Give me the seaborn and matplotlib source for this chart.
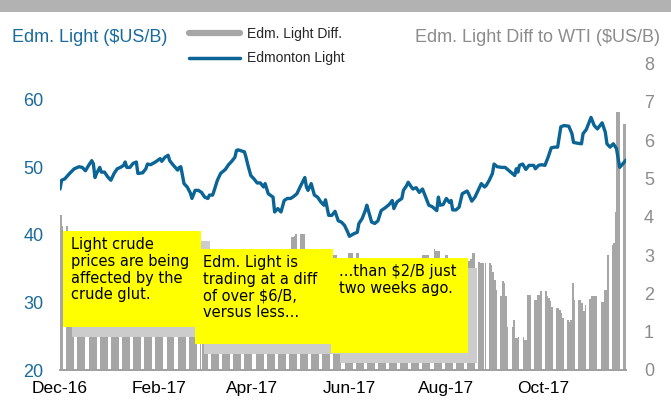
import pandas as pd
import matplotlib
matplotlib.use('Agg')
import matplotlib.pyplot as plt
import matplotlib.dates as mdates
from matplotlib.patches import Rectangle
from matplotlib.lines import Line2D
import seaborn as sns


START = pd.Timestamp('2016-12-01')
END_DAY = 356

# Edmonton Light ($US/B), days after 2016-12-01
LINE_DAYS = [
    0, 1, 3, 6, 9, 12, 14, 16, 18, 20, 21, 22, 23, 25, 26, 28, 30, 32, 34, 36,
    38, 40, 41, 42, 44, 46, 48, 49, 52, 54, 55, 57, 60, 63, 64, 66, 68, 69, 71, 74,
    75, 76, 78, 80, 82, 83, 85, 87, 89, 91, 93, 94, 96, 97, 99, 101, 104, 106, 108, 110,
    111, 112, 116, 117, 118, 120, 122, 124, 126, 128, 129, 131, 134, 135, 137, 139, 141, 143, 145, 147,
    149, 151, 154, 155, 156, 158, 160, 162, 164, 166, 167, 169, 171, 173, 175, 177, 179, 181, 182, 185,
    187, 188, 190, 192, 193, 196, 198, 200, 202, 205, 207, 209, 210, 212, 215, 216, 218, 219, 221, 222,
    224, 226, 228, 230, 232, 234, 237, 238, 239, 241, 243, 245, 246, 247, 249, 251, 253, 256, 257, 259,
    261, 263, 265, 267, 268, 270, 272, 273, 275, 278, 280, 282, 284, 286, 287, 288, 289, 291, 293, 295,
    298, 299, 301, 303, 305, 307, 309, 311, 313, 315, 317, 320, 322, 323, 325, 328, 329, 331, 334, 336,
    338, 341, 343, 344, 346, 348, 350, 352, 355, 356,
]
LINE_PRICE = [
    46.8, 48.1, 48.3, 49.1, 49.8, 50.1, 50.0, 49.5, 50.3, 51.0, 50.5, 48.5, 49.1, 50.0, 49.3, 49.3, 48.6, 48.1, 49.1, 49.8,
    50.0, 50.3, 50.8, 50.0, 50.0, 50.6, 50.8, 49.1, 49.2, 49.8, 50.5, 50.4, 50.8, 51.3, 50.9, 51.5, 51.8, 51.0, 50.4, 49.6,
    50.0, 50.1, 47.6, 47.1, 46.2, 45.4, 46.6, 46.6, 46.3, 45.6, 45.4, 45.9, 45.9, 46.6, 48.1, 49.1, 49.7, 50.4, 50.9, 51.5,
    52.5, 52.6, 52.3, 51.5, 50.5, 48.8, 48.3, 47.7, 47.7, 47.1, 47.6, 46.1, 45.6, 43.4, 43.9, 43.4, 45.1, 45.4, 45.4, 45.7,
    46.1, 47.1, 48.5, 47.1, 46.6, 47.6, 45.9, 45.6, 44.9, 44.4, 45.2, 42.9, 42.9, 43.5, 42.1, 41.9, 41.4, 40.4, 39.8, 40.2,
    40.4, 41.7, 42.4, 43.6, 44.4, 41.9, 41.7, 42.1, 43.6, 44.1, 44.5, 45.1, 43.9, 44.9, 45.4, 46.6, 47.3, 47.8, 47.1, 46.8,
    47.0, 46.3, 46.8, 45.6, 44.4, 44.2, 43.6, 45.6, 44.4, 44.5, 45.4, 44.8, 45.1, 43.7, 43.7, 44.1, 46.1, 46.5, 46.1, 45.0,
    45.6, 46.6, 47.6, 47.1, 47.3, 48.1, 49.1, 50.5, 50.1, 50.0, 50.0, 49.6, 49.2, 48.8, 49.8, 49.3, 50.3, 50.5, 49.7, 50.3,
    50.3, 49.8, 50.3, 50.4, 50.3, 51.5, 52.9, 53.0, 53.0, 56.0, 56.2, 56.1, 55.0, 53.7, 53.6, 53.5, 55.0, 55.6, 57.4, 56.2,
    55.7, 56.6, 55.2, 53.5, 53.0, 53.5, 52.8, 50.0, 50.8, 51.1,
]

# Edm. Light diff to WTI ($US/B), one row per week of business days
DIFF_WEEKS = [
    [4.05, 3.75],                          # Dec 1
    [3.75, 3.55, 3.45, 3.40, 3.50],        # Dec 5
    [3.45, 3.30, 3.35, 3.20, 3.25],
    [3.30, 3.35, 3.40, 3.30, 3.25],
    [3.20, 3.10, 3.15, 3.25, 3.30],
    [3.35, 3.40, 3.30, 3.20, 3.15],        # Jan 2
    [3.10, 3.05, 3.15, 3.20, 3.10],
    [3.05, 3.00, 2.95, 3.10, 3.15],
    [3.20, 3.25, 3.15, 3.05, 3.00],
    [3.10, 3.20, 3.30, 3.25, 3.15],        # Jan 30
    [3.05, 3.00, 3.10, 3.20, 3.25],
    [3.30, 3.35, 3.25, 3.15, 3.10],
    [3.05, 3.00, 2.95, 3.05, 3.10],
    [3.05, 3.00, 2.95, 2.90, 2.95],        # Feb 27
    [2.95, 2.90, 2.85, 2.80, 2.90],
    [2.95, 3.00, 2.90, 2.85, 2.80],
    [2.85, 2.90, 2.95, 3.00, 3.05],
    [3.05, 3.00, 2.95, 3.00, 3.10],        # Mar 27
    [3.05, 3.00, 2.95, 2.90, 2.95],
    [3.00, 3.05, 3.10, 3.05, 3.10],
    [3.10, 3.05, 3.00, 3.10, 3.12],
    [3.10, 3.47, 3.47, 3.50, 3.54],        # Apr 24
    [3.54, 3.54, 3.54, 3.10, 3.05],        # May 1
    [3.00, 2.95, 2.90, 2.95, 3.00],
    [2.95, 2.90, 2.95, 3.00, 3.05],
    [3.00, 3.00, 2.85, 2.80, 2.85],        # May 22
    [2.80, 2.85, 3.06, 3.06, 3.06],
    [3.06, 3.06, 2.85, 2.80, 2.75],        # Jun 5
    [2.70, 2.75, 2.80, 2.70, 2.65],
    [2.60, 2.65, 2.70, 2.75, 2.70],
    [2.65, 2.70, 2.75, 2.80, 2.75],        # Jun 26
    [2.70, 2.75, 2.80, 2.85, 2.80],
    [2.75, 2.80, 2.85, 2.80, 2.85],
    [3.00, 3.00, 3.00, 3.00, 2.85],        # Jul 17
    [3.17, 3.10, 3.10, 3.10, 2.85],
    [3.00, 3.00, 2.85, 2.80, 2.80],        # Jul 31
    [2.80, 2.75, 2.80, 2.85, 2.80],
    [2.85, 2.85, 2.90, 3.05, 3.05],
    [2.83, 2.80, 2.80, 2.80, 2.78],        # Aug 21
    [2.78, 2.75, 2.57, 2.35, 2.10],
    [1.92, 2.31, 2.28, 1.92, 1.13],        # Sep 4
    [1.13, 1.31, 0.83, 0.83, 0.87],
    [0.87, 0.78, 0.78, 1.96, 1.96],
    [1.83, 1.83, 1.96, 1.96, 2.05],        # Sep 25
    [2.05, 1.92, 1.87, 1.80, 1.65],
    [1.61, 1.61, 1.56, 1.48, 1.35],
    [1.31, 1.26, 1.30, 2.27, 1.83],        # Oct 16
    [1.83, 1.83, 1.74, 1.55, 1.70],
    [1.85, 1.92, 1.92, 1.92, 1.92],        # Oct 30
    [1.78, 1.78, 2.09, 2.09, 3.00],
    [3.27, 3.32, 4.13, 6.74, 6.74],        # Nov 13
    [6.43, 6.43],                          # Nov 20
]

NOTES = [
    'Light crude\nprices are being\naffected by the\ncrude glut.',
    'Edm. Light is\ntrading at a diff\nof over \\$6/B,\nversus less...',
    '...than \\$2/B just\ntwo weeks ago.',
]

BLUE = '#0b6496'
BLUE_TXT = '#1a6b9c'
BAR_GREY = '#a6a6a6'
GREY_TXT = '#8c8c8c'

W, H = 671, 401


def fig_rect(x0, y0, x1, y1):
    # pixel box of the 671x401 picture -> figure fraction
    return (x0 / W, 1 - y1 / H), (x1 - x0) / W, (y1 - y0) / H


def note(ax, x0, y0, x1, y1, text):
    fig = ax.figure
    xy, w, h = fig_rect(x0 + 9, y0 + 10, x1 + 9, y1 + 10)
    ax.add_patch(Rectangle(xy, w, h, transform=fig.transFigure, facecolor='#cccccc',
                           edgecolor='none', clip_on=False, zorder=5))
    xy, w, h = fig_rect(x0, y0, x1, y1)
    ax.add_patch(Rectangle(xy, w, h, transform=fig.transFigure, facecolor='#ffff00',
                           edgecolor='none', clip_on=False, zorder=5))
    ax.text((x0 + 8) / W, 1 - (y0 + 6) / H, text, transform=fig.transFigure,
            ha='left', va='top', fontsize=10.5, family='DejaVu Sans',
            color='black', zorder=6, linespacing=1.15)


def main():
    sns.set_style('white')
    plt.rcParams['font.family'] = ['Liberation Sans', 'DejaVu Sans']

    diff = [v for week in DIFF_WEEKS for v in week]
    bdays = pd.bdate_range('2016-12-01', '2017-11-21')
    assert len(bdays) == len(diff)
    line_dates = START + pd.to_timedelta(LINE_DAYS, unit='D')
    line = pd.DataFrame({'date': line_dates, 'price': LINE_PRICE})

    fig = plt.figure(figsize=(W / 100, H / 100), dpi=100)
    ax = fig.add_axes([60 / W, 1 - 370 / H, (626 - 60) / W, (370 - 63.4) / H])
    ax2 = ax.twinx()

    ax2.bar(bdays, diff, width=1.0, align='edge', color=BAR_GREY, linewidth=0, zorder=1)
    ax2.set_ylim(0, 8)
    ax2.set_yticks(range(9))

    sns.lineplot(data=line, x='date', y='price', ax=ax, color=BLUE, linewidth=2.4)
    ax.set_ylim(20, 65.4)
    ax.set_yticks([20, 30, 40, 50, 60])
    ax.set_xlim(START, START + pd.Timedelta(days=END_DAY))
    ax.set_xlabel('')
    ax.set_ylabel('')
    ax.set_zorder(ax2.get_zorder() + 1)
    ax.patch.set_visible(False)

    ticks = pd.to_datetime(['2016-12-01', '2017-02-01', '2017-04-01',
                            '2017-06-01', '2017-08-01', '2017-10-01'])
    ax.set_xticks(ticks)
    ax.xaxis.set_major_formatter(mdates.DateFormatter('%b-%y'))

    for a in (ax, ax2):
        for side in ('top', 'left', 'right', 'bottom'):
            a.spines[side].set_visible(False)
    ax.spines['bottom'].set_visible(True)
    ax.spines['bottom'].set_color('#a0a0a0')
    ax.spines['bottom'].set_linewidth(1.4)

    ax.tick_params(axis='x', direction='out', length=5, width=1.2, color='#a0a0a0',
                   labelsize=12.5, labelcolor='black', pad=3)
    ax.tick_params(axis='y', length=0, labelsize=13, labelcolor=BLUE_TXT, pad=12)
    ax2.tick_params(axis='y', length=0, labelsize=13, labelcolor=GREY_TXT, pad=13)

    note(ax2, 63, 231, 201, 327, NOTES[0])
    note(ax2, 195, 249, 333, 344, NOTES[1])
    note(ax2, 331, 258, 468, 353, NOTES[2])

    # grey band across the top
    xy, w, h = fig_rect(0, 0, W, 12)
    fig.patches.append(Rectangle(xy, w, h, transform=fig.transFigure,
                                 facecolor='#b2b2b2', edgecolor='none'))

    fig.text(12 / W, 1 - 38 / H, 'Edm. Light (\\$US/B)', ha='left', va='center',
             fontsize=13, color=BLUE_TXT)
    fig.text(660 / W, 1 - 38 / H, 'Edm. Light Diff to WTI (\\$US/B)', ha='right', va='center',
             fontsize=13, color=GREY_TXT)

    handles = [Line2D([], [], color=BAR_GREY, linewidth=4.5),
               Line2D([], [], color=BLUE, linewidth=2.5)]
    fig.legend(handles, ['Edm. Light Diff.', 'Edmonton Light'], loc='upper left',
               bbox_to_anchor=(189 / W, 1 - 27 / H), frameon=False, fontsize=10,
               handlelength=3.7, handletextpad=0.5, labelspacing=0.75,
               borderpad=0, borderaxespad=0)

    fig.savefig('out.png', dpi=100)


if __name__ == '__main__':
    main()
